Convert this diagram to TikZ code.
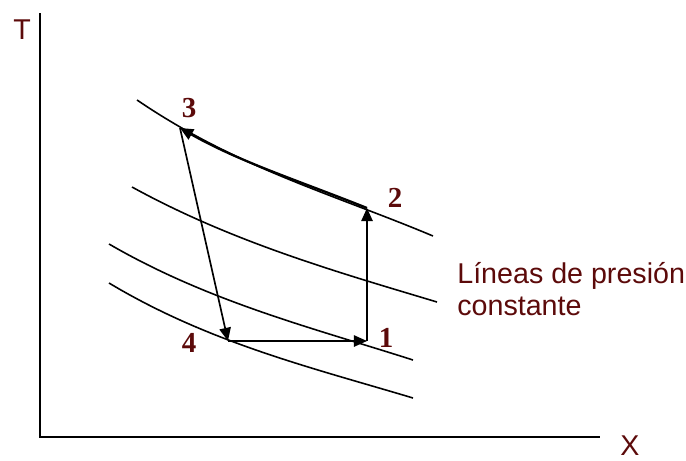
\documentclass[tikz,border=0pt]{standalone}
\usepackage{fontspec}
\setmainfont{Liberation Serif}
\setsansfont{Liberation Sans}
\usepackage{tikz}
\usetikzlibrary{arrows.meta, calc, positioning}
\definecolor{main}{rgb}{0.36,0.04,0.04}

\begin{document}
\begin{tikzpicture}[x=0.02cm, y=-0.02cm,
    isobar/.style={line width=0.9pt},
    proc/.style={line width=0.95pt, -{Triangle[length=7.5pt, width=6.5pt]}},
    pnum/.style={text=main, font=\bfseries\fontsize{16.5}{18}\selectfont, inner sep=0pt},
    axlbl/.style={text=main, font=\sffamily\fontsize{16.3}{18}\selectfont, inner sep=0pt}]
    \useasboundingbox (0,0) rectangle (686,460);

    % Axes
    \coordinate (O) at (40,437);
    \coordinate (Ttop) at (40,13);
    \coordinate (Xend) at (600,437);
    \draw[line width=1.1pt] (Ttop) -- (O) -- (Xend);
    \node[axlbl] (T) at (22,30) {T};
    \node[axlbl] (X) at (630,446) {X};

    % Lines of constant pressure
    \draw[isobar] (137,100) .. controls +(100,68) and +(-100,-42) .. (433,236);
    \draw[isobar] (132,187) .. controls +(100,55) and +(-100,-30) .. (437,302);
    \draw[isobar] (109,244) .. controls +(100,58) and +(-100,-32) .. (413,360);
    \draw[isobar] (109,283) .. controls +(100,60) and +(-100,-30) .. (413,398);
    \node[axlbl, anchor=north west, align=left] (isolbl) at (457,262) {Líneas de presión\\constante};

    % Cycle
    \coordinate (p1) at (367,341);
    \coordinate (p2) at (367,208);
    \coordinate (p3) at (180,128);
    \coordinate (p4) at (228,341);
    \draw[proc] (p1) -- (p2);
    \draw[proc, line width=1.3pt] (p2) .. controls +(-70,-28) and +(60,34) .. (p3);
    \draw[proc] (p3) -- (p4);
    \draw[proc] (p4) -- (p1);

    \node[pnum] (n1) at (386,338) {1};
    \node[pnum] (n2) at (395,198) {2};
    \node[pnum] (n3) at (189,108) {3};
    \node[pnum] (n4) at (189,343) {4};
\end{tikzpicture}
\end{document}
